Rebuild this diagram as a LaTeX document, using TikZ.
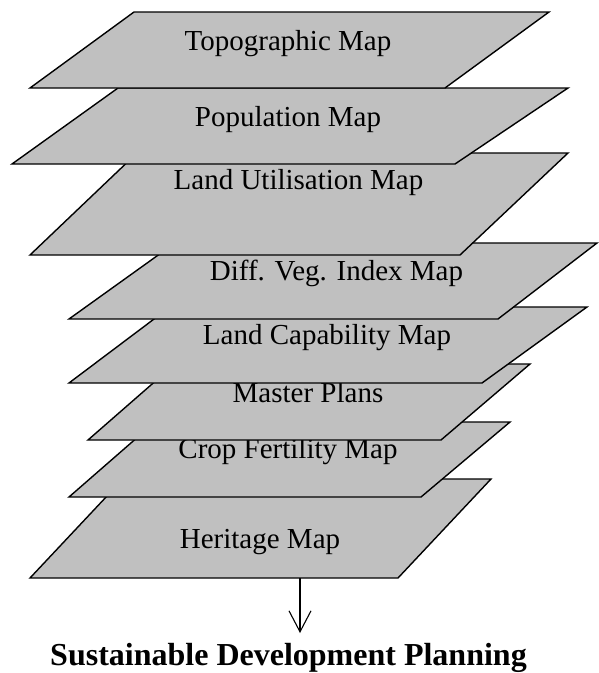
\documentclass[tikz,border=0pt]{standalone}
\usepackage{fontspec}
\setmainfont{Liberation Serif}
\usetikzlibrary{arrows.meta}
\definecolor{layergray}{RGB}{192,192,192}
\tikzset{
  layer/.style={draw=black, fill=layergray, line width=1.4pt, line join=miter},
  lbl/.style={anchor=base, inner sep=0pt, font=\fontsize{29}{34}\selectfont},
  title/.style={anchor=base, inner sep=0pt, font=\fontsize{32}{38}\selectfont\bfseries},
  flow/.style={line width=1.1pt, -{Straight Barb[length=21pt, width=22pt, line width=1.1pt]}}
}
\begin{document}
\begin{tikzpicture}[x=1pt, y=-1pt]
\useasboundingbox (0,0) rectangle (598,673);
% bottom layer first, top layer last
\draw[layer] (123,479) -- (491,479) -- (398,578) -- (30,578) -- cycle;
\node[lbl] (heritage) at (260,548) {Heritage Map};
\draw[layer] (155,422) -- (510,422) -- (421,497) -- (69,497) -- cycle;
\node[lbl] (crop) at (288,458) {Crop Fertility Map};
\draw[layer] (175,364) -- (530,364) -- (441,440) -- (88,440) -- cycle;
\node[lbl] (master) at (308,402) {Master Plans};
\draw[layer] (170,307) -- (587,307) -- (482,383) -- (69,383) -- cycle;
\node[lbl] (capab) at (327,344) {Land Capability Map};
\draw[layer] (175,243) -- (597,243) -- (498,319) -- (69,319) -- cycle;
\node[lbl] (ndvi) at (336.5,280) {Diff. Veg. Index Map};
\draw[layer] (137,153) -- (568,153) -- (460,255) -- (30,255) -- cycle;
\node[lbl] (landuse) at (298.5,189) {Land Utilisation Map};
\draw[layer] (118,88) -- (568,88) -- (455,164) -- (12,164) -- cycle;
\node[lbl] (popul) at (288,126) {Population Map};
\draw[layer] (134,12) -- (549,12) -- (445,88) -- (30,88) -- cycle;
\node[lbl] (topo) at (288,50) {Topographic Map};
% output
\node[title] (sdp) at (288.5,665) {Sustainable Development Planning};
\coordinate (hbottom) at (300,578);
\coordinate (aend) at (300,633);
\draw[flow] (hbottom) -- (aend);
\end{tikzpicture}
\end{document}
